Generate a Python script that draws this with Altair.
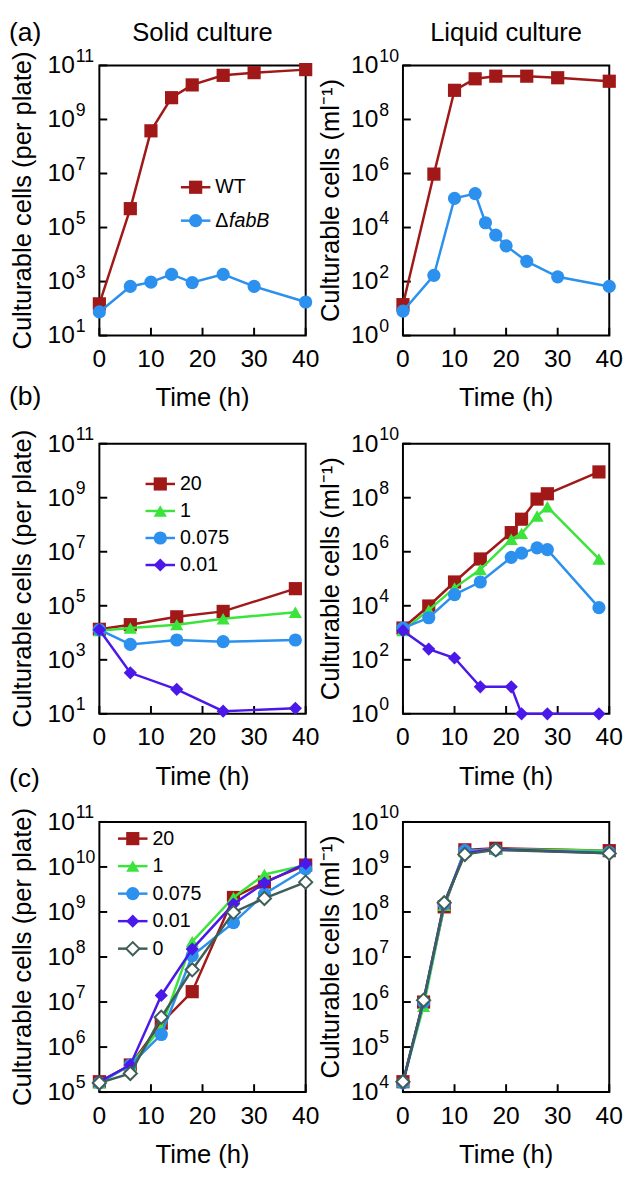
import altair as alt
import pandas as pd

FONT = "Liberation Sans"
W, H = 210, 275

RED = "#A01818"
GREEN = "#3BE43B"
BLUE = "#2B90EE"
PURPLE = "#4A18E8"
SLATE = "#3F5E58"

# ---------------- data ----------------
X_TICKS = [0, 10, 20, 30, 40]

# (a) solid
a_solid_time = [0, 6, 10, 14, 18, 24, 30, 40]
a_solid_wt = [1.5e2, 5e5, 3.8e8, 6.4e9, 1.9e10, 4.3e10, 5.4e10, 7e10]
a_solid_fab = [75, 660, 950, 1860, 920, 1860, 660, 175]
# (a) liquid
a_liq_time_wt = [0, 6, 10, 14, 18, 24, 30, 40]
a_liq_wt = [14, 9.5e5, 1.2e9, 3.2e9, 4e9, 4e9, 3.5e9, 2.6e9]
a_liq_time_fab = [0, 6, 10, 14, 16, 18, 20, 24, 30, 40]
a_liq_fab = [8, 170, 1.2e5, 1.8e5, 1.5e4, 5.2e3, 2.1e3, 560, 150, 66]

# (b) solid
b_solid_time = [0, 6, 15, 24, 38]
b_solid_20 = [1.35e4, 2e4, 3.9e4, 6.2e4, 4.3e5]
b_solid_1 = [1.2e4, 1.5e4, 2e4, 3.3e4, 5.8e4]
b_solid_0075 = [1.3e4, 3.7e3, 5.4e3, 4.7e3, 5.4e3]
b_solid_001 = [1.3e4, 330, 81, 12.6, 16]
# (b) liquid
b_liq_time = [0, 5, 10, 15, 21, 23, 26, 28, 38]
b_liq_20 = [1.5e3, 9.8e3, 7.6e4, 5.4e5, 5.1e6, 1.6e7, 8.9e7, 1.4e8, 9e8]
b_liq_1 = [1.2e3, 6.9e3, 4.6e4, 2.2e5, 2.9e6, 4.8e6, 2.1e7, 4.6e7, 5.4e5]
b_liq_0075 = [1.5e3, 3.6e3, 2.6e4, 7.6e4, 6.2e5, 8.9e5, 1.4e6, 1.2e6, 8.5e3]
b_liq_time_001 = [0, 5, 10, 15, 21, 23, 28, 38]
b_liq_001 = [1.2e3, 250, 117, 10, 10, 1, 1, 1]

# (c) solid
c_solid_time = [0, 6, 12, 18, 26, 32, 40]
c_solid_20 = [1.7e5, 4e5, 3.4e6, 1.7e7, 2.1e9, 4.6e9, 1.1e10]
c_solid_1 = [1.6e5, 4e5, 2.7e6, 2.2e8, 2.1e9, 6.8e9, 1.1e10]
c_solid_0075 = [1.6e5, 4e5, 1.9e6, 1.07e8, 5.8e8, 2.5e9, 9.1e9]
c_solid_001 = [1.7e5, 4e5, 1.4e7, 1.5e8, 1.5e9, 4.4e9, 1.2e10]
c_solid_0 = [1.6e5, 2.6e5, 4.6e6, 5.2e7, 9.8e8, 2e9, 4.6e9]
# (c) liquid
c_liq_time = [0, 4, 8, 12, 18, 40]
c_liq_20 = [1.7e4, 1.0e6, 1.3e8, 2.4e9, 2.6e9, 2.3e9]
c_liq_1 = [1.7e4, 8.0e5, 1.4e8, 2.2e9, 2.5e9, 2.3e9]
c_liq_0075 = [1.6e4, 1.0e6, 1.5e8, 2.3e9, 2.4e9, 2.1e9]
c_liq_001 = [1.6e4, 1.1e6, 1.6e8, 2.0e9, 2.5e9, 2.0e9]
c_liq_0 = [1.7e4, 1.1e6, 1.6e8, 1.9e9, 2.4e9, 2.0e9]

SOLID_EXPS_AB = [1, 3, 5, 7, 9, 11]
LIQ_EXPS_AB = [0, 2, 4, 6, 8, 10]
SOLID_EXPS_C = [5, 6, 7, 8, 9, 10, 11]
LIQ_EXPS_C = [4, 5, 6, 7, 8, 9, 10]

Y_TITLE_SOLID = "Culturable cells (per plate)"
Y_TITLE_LIQ = "Culturable cells (ml\u207b\u00b9)"
X_TITLE = "Time (h)"

ONE = pd.DataFrame({"k": [0]})


def scales(ylo, yhi):
    xs = alt.Scale(domain=[0, 40], nice=False, zero=False)
    ys = alt.Scale(type="log", domain=[10.0 ** ylo, 10.0 ** yhi], nice=False)
    return xs, ys


def series_layers(times, values, color, shape, xs, ys, open_marker=False, size=180):
    df = pd.DataFrame({"t": times, "v": values})
    base = alt.Chart(df)
    enc = dict(x=alt.X("t:Q", scale=xs, axis=None), y=alt.Y("v:Q", scale=ys, axis=None))
    line = base.mark_line(color=color, strokeWidth=2.5).encode(**enc)
    if open_marker:
        pt = base.mark_point(shape=shape, filled=True, size=size, fill="white",
                             stroke=color, strokeWidth=2, opacity=1).encode(**enc)
    else:
        pt = base.mark_point(shape=shape, filled=True, size=size, color=color,
                             opacity=1).encode(**enc)
    return [line, pt]


def axis_layers(xs, ys, exps, ytitle, ytitle_x):
    layers = []
    xt = pd.DataFrame({"tick": X_TICKS, "lab": [str(t) for t in X_TICKS]})
    layers.append(
        alt.Chart(xt).mark_rule(color="black", strokeWidth=2).encode(
            x=alt.X("tick:Q", scale=xs, axis=None),
            y=alt.value(H), y2=alt.value(H - 8))
    )
    layers.append(
        alt.Chart(xt).mark_text(align="center", baseline="middle", fontSize=25, font=FONT,
                                color="black").encode(
            x=alt.X("tick:Q", scale=xs, axis=None), y=alt.value(H + 24), text="lab:N")
    )
    layers.append(
        alt.Chart(ONE).mark_text(text=X_TITLE, align="center", baseline="middle",
                                 fontSize=26, font=FONT, color="black").encode(
            x=alt.value(W / 2), y=alt.value(H + 64))
    )
    yt = pd.DataFrame({"v": [10.0 ** e for e in exps],
                       "base": ["10"] * len(exps),
                       "ex": [str(e) for e in exps]})
    layers.append(
        alt.Chart(yt).mark_rule(color="black", strokeWidth=2).encode(
            y=alt.Y("v:Q", scale=ys, axis=None), x=alt.value(0), x2=alt.value(8))
    )
    layers.append(
        alt.Chart(yt).mark_text(align="right", baseline="middle", fontSize=25, font=FONT,
                                color="black").encode(
            y=alt.Y("v:Q", scale=ys, axis=None), x=alt.value(-25), text="base:N")
    )
    layers.append(
        alt.Chart(yt).mark_text(align="left", baseline="middle", fontSize=18, font=FONT,
                                color="black", dy=-9).encode(
            y=alt.Y("v:Q", scale=ys, axis=None), x=alt.value(-24), text="ex:N")
    )
    layers.append(
        alt.Chart(ONE).mark_text(text=ytitle, angle=270, align="center", baseline="middle",
                                 fontSize=26, font=FONT, color="black").encode(
            x=alt.value(ytitle_x), y=alt.value(H / 2))
    )
    return layers


def legend_layers(entries, x0, y0, dy):
    layers = []
    for i, (label, color, shape, open_marker) in enumerate(entries):
        y = y0 + i * dy
        layers.append(alt.Chart(ONE).mark_rule(color=color, strokeWidth=2.5).encode(
            x=alt.value(x0), x2=alt.value(x0 + 30), y=alt.value(y)))
        if open_marker:
            layers.append(alt.Chart(ONE).mark_point(shape=shape, filled=True, size=180,
                                                    fill="white", stroke=color, strokeWidth=2,
                                                    opacity=1).encode(
                x=alt.value(x0 + 15), y=alt.value(y)))
        else:
            layers.append(alt.Chart(ONE).mark_point(shape=shape, filled=True, size=180,
                                                    color=color, opacity=1).encode(
                x=alt.value(x0 + 15), y=alt.value(y)))
        if label == "\u0394fabB":
            layers.append(alt.Chart(ONE).mark_text(text="\u0394", align="left", baseline="middle",
                                                   fontSize=20, font=FONT, color="black").encode(
                x=alt.value(x0 + 35), y=alt.value(y)))
            layers.append(alt.Chart(ONE).mark_text(text="fabB", align="left", baseline="middle",
                                                   fontSize=20, font=FONT, fontStyle="italic",
                                                   color="black").encode(
                x=alt.value(x0 + 49), y=alt.value(y)))
        else:
            layers.append(alt.Chart(ONE).mark_text(text=label, align="left", baseline="middle",
                                                   fontSize=20, font=FONT, color="black").encode(
                x=alt.value(x0 + 35), y=alt.value(y)))
    return layers


def text_layer(txt, x, y, size, align="center"):
    return alt.Chart(ONE).mark_text(text=txt, align=align, baseline="middle", fontSize=size,
                                    font=FONT, color="black").encode(x=alt.value(x), y=alt.value(y))


def panel(series, ylo, yhi, exps, ytitle, ytitle_x, legend=None, title=None, tag=None, tag_y=-45):
    xs, ys = scales(ylo, yhi)
    layers = axis_layers(xs, ys, exps, ytitle, ytitle_x)
    for s in series:
        layers += series_layers(s[0], s[1], s[2], s[3], xs, ys,
                                open_marker=s[4] if len(s) > 4 else False)
    if legend is not None:
        layers += legend_layers(*legend)
    if title:
        layers.append(text_layer(title, W / 2, -33, 26))
    if tag:
        layers.append(text_layer(tag, -92, tag_y, 27, align="left"))
    return alt.layer(*layers).properties(width=W, height=H)


SQ, TRI, CIR, DIA = "square", "triangle-up", "circle", "diamond"

pa_l = panel(
    [(a_solid_time, a_solid_wt, RED, SQ), (a_solid_time, a_solid_fab, BLUE, CIR)],
    1, 11, SOLID_EXPS_AB, Y_TITLE_SOLID, -78,
    legend=([("WT", RED, SQ, False), ("\u0394fabB", BLUE, CIR, False)], 83, 124, 34),
    title="Solid culture", tag="(a)", tag_y=-33)
pa_r = panel(
    [(a_liq_time_wt, a_liq_wt, RED, SQ), (a_liq_time_fab, a_liq_fab, BLUE, CIR)],
    0, 10, LIQ_EXPS_AB, Y_TITLE_LIQ, -73, title="Liquid culture")

pb_l = panel(
    [(b_solid_time, b_solid_20, RED, SQ), (b_solid_time, b_solid_1, GREEN, TRI),
     (b_solid_time, b_solid_0075, BLUE, CIR), (b_solid_time, b_solid_001, PURPLE, DIA)],
    1, 11, SOLID_EXPS_AB, Y_TITLE_SOLID, -78,
    legend=([("20", RED, SQ, False), ("1", GREEN, TRI, False),
             ("0.075", BLUE, CIR, False), ("0.01", PURPLE, DIA, False)], 47, 41, 27.5),
    tag="(b)", tag_y=-47)
pb_r = panel(
    [(b_liq_time, b_liq_20, RED, SQ), (b_liq_time, b_liq_1, GREEN, TRI),
     (b_liq_time, b_liq_0075, BLUE, CIR), (b_liq_time_001, b_liq_001, PURPLE, DIA)],
    0, 10, LIQ_EXPS_AB, Y_TITLE_LIQ, -73)

pc_l = panel(
    [(c_solid_time, c_solid_20, RED, SQ), (c_solid_time, c_solid_1, GREEN, TRI),
     (c_solid_time, c_solid_0075, BLUE, CIR), (c_solid_time, c_solid_001, PURPLE, DIA),
     (c_solid_time, c_solid_0, SLATE, DIA, True)],
    5, 11, SOLID_EXPS_C, Y_TITLE_SOLID, -78,
    legend=([("20", RED, SQ, False), ("1", GREEN, TRI, False),
             ("0.075", BLUE, CIR, False), ("0.01", PURPLE, DIA, False),
             ("0", SLATE, DIA, True)], 19, 17, 28),
    tag="(c)", tag_y=-44)
pc_r = panel(
    [(c_liq_time, c_liq_20, RED, SQ), (c_liq_time, c_liq_1, GREEN, TRI),
     (c_liq_time, c_liq_0075, BLUE, CIR), (c_liq_time, c_liq_001, PURPLE, DIA),
     (c_liq_time, c_liq_0, SLATE, DIA, True)],
    4, 10, LIQ_EXPS_C, Y_TITLE_LIQ, -73)

chart = alt.concat(pa_l, pa_r, pb_l, pb_r, pc_l, pc_r, columns=2,
                   spacing={"row": 110, "column": 99}, bounds="flush").properties(
    padding=0
).configure_view(stroke="black", strokeWidth=2).configure_axis(grid=False)

chart.save("out.html", embed_options={"renderer": "svg", "actions": False})
